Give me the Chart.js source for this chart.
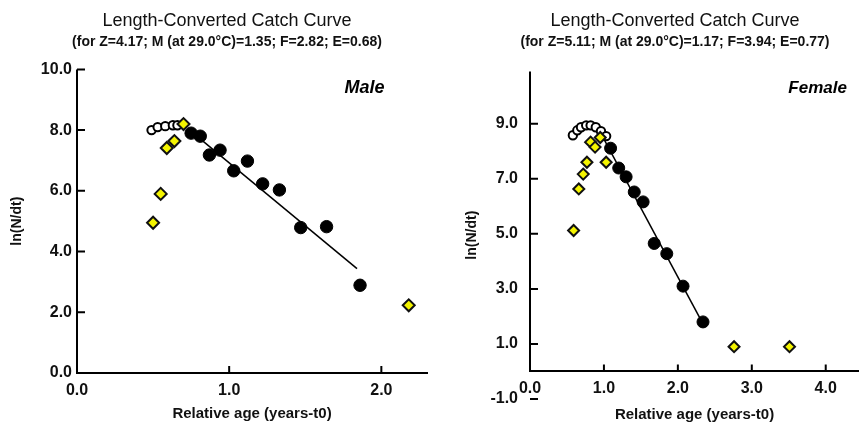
<!DOCTYPE html>
<html>
<head>
<meta charset="utf-8">
<script src="https://cdn.jsdelivr.net/npm/chart.js@4.4.0/dist/chart.umd.min.js"></script>
<style>
  html, body { margin: 0; padding: 0; background: #fff; overflow: hidden; width: 859px; height: 423px; }
  #wrap { position: relative; width: 859px; height: 423px; }
  canvas { position: absolute; top: 0; }
  #maleChart { left: 0; }
  #femaleChart { left: 430px; }
</style>
</head>
<body>
<div id="wrap">
  <canvas id="maleChart" width="454" height="423"></canvas>
  <canvas id="femaleChart" width="490" height="423"></canvas>
</div>
<script>
// ---- Male panel ----
const maleOpenX = [0.49, 0.53, 0.58, 0.63, 0.66];
const maleOpenY = [8.0, 8.1, 8.13, 8.16, 8.16];
const maleYellowX = [0.50, 0.55, 0.59, 0.64, 0.70, 2.18];
const maleYellowY = [4.95, 5.9, 7.41, 7.64, 8.2, 2.23];
const maleBlackX = [0.75, 0.81, 0.87, 0.94, 1.03, 1.12, 1.22, 1.33, 1.47, 1.64, 1.86];
const maleBlackY = [7.9, 7.8, 7.18, 7.34, 6.66, 6.98, 6.23, 6.03, 4.79, 4.82, 2.89];
const maleLineX = [0.76, 1.84];
const maleLineY = [7.92, 3.44];
const maleXTicks = [0, 1, 2];
const maleYTicks = [0, 2, 4, 6, 8, 10];

// ---- Female panel ----
const femaleOpenX = [0.58, 0.64, 0.69, 0.76, 0.82, 0.89, 0.96, 1.03];
const femaleOpenY = [8.58, 8.76, 8.87, 8.94, 8.94, 8.87, 8.73, 8.55];
const femaleYellowX = [0.59, 0.66, 0.72, 0.77, 0.82, 0.88, 0.95, 1.03, 2.76, 3.51];
const femaleYellowY = [5.12, 6.63, 7.17, 7.6, 8.33, 8.15, 8.5, 7.6, 0.9, 0.9];
const femaleBlackX = [1.09, 1.20, 1.30, 1.41, 1.53, 1.68, 1.85, 2.07, 2.34];
const femaleBlackY = [8.11, 7.39, 7.07, 6.52, 6.16, 4.65, 4.28, 3.1, 1.8];
const femaleLineX = [1.0, 2.32];
const femaleLineY = [8.44, 1.83];
const femaleXTicks = [0, 1, 2, 3, 4];
const femaleYTicks = [-1, 1, 3, 5, 7, 9];

const FONT = "'Liberation Sans', Arial, sans-serif";
const YELLOW = "#f4f400";

function pts(xs, ys) {
  return xs.map((x, i) => ({ x: x, y: ys[i] }));
}

function makeDatasets(openX, openY, yelX, yelY, blkX, blkY, lineX, lineY, r) {
  return [
    {
      label: "yellow",
      data: pts(yelX, yelY),
      pointStyle: "rectRot",
      pointRadius: r.yellow,
      backgroundColor: YELLOW,
      borderColor: "#111",
      borderWidth: 2,
      order: 0
    },
    {
      label: "black",
      data: pts(blkX, blkY),
      pointStyle: "circle",
      pointRadius: r.black,
      backgroundColor: "#000",
      borderColor: "#000",
      borderWidth: 1,
      order: 1
    },
    {
      label: "open",
      data: pts(openX, openY),
      pointStyle: "circle",
      pointRadius: r.open,
      backgroundColor: "#fff",
      borderColor: "#000",
      borderWidth: 2,
      order: 2
    },
    {
      label: "line",
      type: "line",
      data: pts(lineX, lineY),
      showLine: true,
      pointRadius: 0,
      borderColor: "#000",
      borderWidth: 1.5,
      order: 3
    }
  ];
}

// inner tick marks, the y axis line and the sex label
const panelDecor = {
  id: "panelDecor",
  afterDraw(chart, args, opts) {
    const ctx = chart.ctx;
    const xs = chart.scales.x;
    const ys = chart.scales.y;
    const area = chart.chartArea;
    const axisY = ys.getPixelForValue(0);
    ctx.save();
    ctx.strokeStyle = "#000";
    ctx.lineWidth = 2;
    ctx.beginPath();
    ctx.moveTo(area.left, axisY);
    ctx.lineTo(area.left, area.top);
    ys.ticks.forEach((t) => {
      const py = ys.getPixelForValue(t.value);
      ctx.moveTo(area.left, py);
      ctx.lineTo(area.left + 8, py);
    });
    xs.ticks.forEach((t) => {
      const px = xs.getPixelForValue(t.value);
      ctx.moveTo(px, axisY);
      ctx.lineTo(px, axisY - 7);
    });
    ctx.stroke();
    ctx.fillStyle = "#000";
    ctx.font = opts.font;
    ctx.textAlign = "center";
    ctx.textBaseline = "middle";
    ctx.fillText(opts.text, xs.getPixelForValue(opts.x), ys.getPixelForValue(opts.y));
    ctx.restore();
  }
};

function makeChart(id, cfg) {
  const canvas = document.getElementById(id);
  return new Chart(canvas.getContext("2d"), {
    type: "scatter",
    data: { datasets: cfg.datasets },
    plugins: [panelDecor],
    options: {
      responsive: false,
      animation: false,
      events: [],
      layout: { padding: cfg.padding },
      plugins: {
        legend: { display: false },
        tooltip: { enabled: false },
        title: {
          display: true,
          text: "Length-Converted Catch Curve",
          color: "#111",
          font: { family: FONT, size: 18, weight: "normal" },
          padding: { top: 10, bottom: 0 }
        },
        subtitle: {
          display: true,
          text: cfg.subtitle,
          color: "#111",
          font: { family: FONT, size: 14, weight: "bold" },
          padding: { top: 2, bottom: cfg.subBottom }
        },
        panelDecor: cfg.decor
      },
      scales: {
        x: {
          type: "linear",
          position: cfg.xPosition,
          min: cfg.xMin,
          max: cfg.xMax,
          afterBuildTicks: (s) => { s.ticks = cfg.xTicks.map((v) => ({ value: v })); },
          afterFit: cfg.xFit,
          grid: { display: false, drawTicks: false },
          border: { display: true, color: "#000", width: 2 },
          ticks: {
            color: "#111",
            padding: 8,
            font: { family: FONT, size: 16, weight: "bold" },
            callback: (v) => Number(v).toFixed(1)
          },
          title: {
            display: true,
            text: "Relative age (years-t0)",
            color: "#111",
            font: { family: FONT, size: 15, weight: "bold" },
            padding: { top: cfg.xTitlePad, bottom: 0 }
          }
        },
        y: {
          type: "linear",
          min: cfg.yMin,
          max: cfg.yMax,
          afterBuildTicks: (s) => { s.ticks = cfg.yTicks.map((v) => ({ value: v })); },
          afterFit: (s) => { s.width = cfg.yWidth; },
          grid: { display: false, drawTicks: false },
          border: { display: false },
          ticks: {
            color: "#111",
            padding: cfg.yTickPad,
            font: { family: FONT, size: 16, weight: "bold" },
            callback: (v) => Number(v).toFixed(1)
          },
          title: {
            display: true,
            text: "ln(N/dt)",
            color: "#111",
            font: { family: FONT, size: 14, weight: "bold" },
            padding: { top: cfg.yTitlePad, bottom: 0 }
          }
        }
      }
    }
  });
}

makeChart("maleChart", {
  datasets: makeDatasets(maleOpenX, maleOpenY, maleYellowX, maleYellowY,
    maleBlackX, maleBlackY, maleLineX, maleLineY, { yellow: 6, black: 6.2, open: 4.2 }),
  subtitle: "(for Z=4.17; M (at 29.0°C)=1.35; F=2.82; E=0.68)",
  subBottom: 19,
  padding: { left: 27, right: 27, top: 0, bottom: 0 },
  xPosition: "bottom",
  xMin: 0, xMax: 2.3, xTicks: maleXTicks,
  xFit: (s) => { s.height = 50; },
  xTitlePad: 6,
  yMin: 0, yMax: 10, yTicks: maleYTicks,
  yWidth: 50, yTickPad: 5, yTitlePad: -18,
  decor: { text: "Male", x: 1.89, y: 9.38, font: "italic bold 18px " + FONT }
});

makeChart("femaleChart", {
  datasets: makeDatasets(femaleOpenX, femaleOpenY, femaleYellowX, femaleYellowY,
    femaleBlackX, femaleBlackY, femaleLineX, femaleLineY, { yellow: 5.5, black: 6, open: 4.2 }),
  subtitle: "(for Z=5.11; M (at 29.0°C)=1.17; F=3.94; E=0.77)",
  subBottom: 21,
  padding: { left: 61, right: 61, top: 0, bottom: 24 },
  xPosition: { y: 0 },
  xMin: 0, xMax: 4.45, xTicks: femaleXTicks,
  xFit: undefined,
  xTitlePad: -1,
  yMin: -1, yMax: 10.9, yTicks: femaleYTicks,
  yWidth: 39, yTickPad: 12, yTitlePad: -27,
  decor: { text: "Female", x: 3.89, y: 10.28, font: "italic bold 17px " + FONT }
});
</script>
</body>
</html>
